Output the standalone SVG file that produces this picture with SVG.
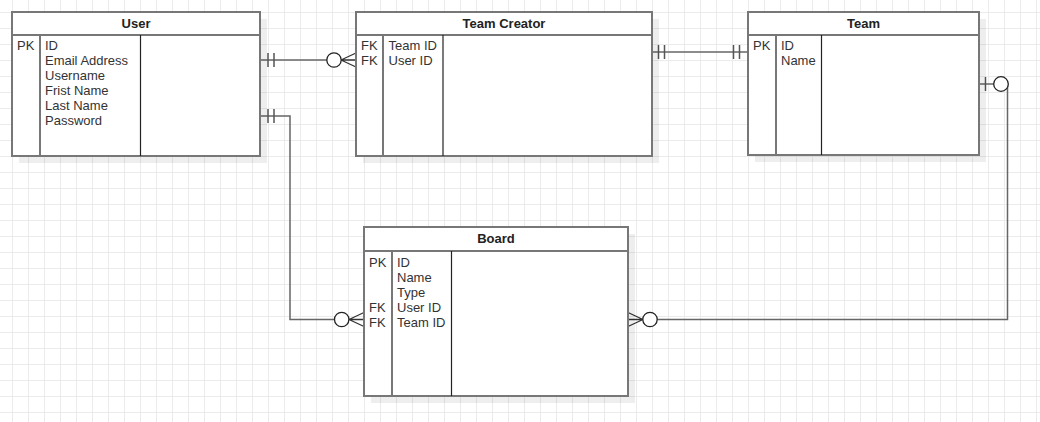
<svg xmlns="http://www.w3.org/2000/svg" width="1040" height="422" viewBox="0 0 1040 422">
<style>
.box{fill:#fff;stroke:#777;stroke-width:2}
.shadow{fill:#000;fill-opacity:0.065}
.sep{stroke:#777;stroke-width:2;fill:none}
.sep2{stroke:#222;stroke-width:1.2;fill:none}
.title{font-family:"Liberation Sans",Arial,Helvetica,sans-serif;font-size:13px;font-weight:bold;fill:#222;text-anchor:middle}
.txt{font-family:"Liberation Sans",Arial,Helvetica,sans-serif;font-size:13px;fill:#333}
.edge{stroke:#666;stroke-width:1.5;fill:none}
.bar{stroke:#555;stroke-width:1.5;fill:none}
.circ{fill:#fff;stroke:#222;stroke-width:1.3}
.crow{stroke:#333;stroke-width:1.3;fill:none}
</style>
<defs>
<pattern id="grid" patternUnits="userSpaceOnUse" x="12" y="12" width="16" height="16">
<path d="M0,0.5 H16 M0.5,0 V16" stroke="#ebebeb" stroke-width="1" fill="none"/>
</pattern>
</defs>
<rect x="0" y="0" width="1040" height="422" fill="#fff"/>
<rect x="0" y="0" width="1040" height="422" fill="url(#grid)"/>

<g id="connectors">
<!-- User - Team Creator -->
<path class="edge" d="M260,60 H327"/>
<path class="bar" d="M268,53 V67 M274,53 V67"/>
<path class="crow" d="M341,60 L356,53 M341,60 L356,67 M341,60 H356"/>
<circle class="circ" cx="334" cy="60" r="7.2"/>
<!-- Team Creator - Team -->
<path class="edge" d="M652,52 H748"/>
<path class="bar" d="M658.5,45 V59 M664.5,45 V59 M733.5,45 V59 M739.5,45 V59"/>
<!-- User - Board -->
<path class="edge" d="M260,116 H290 V319.5 H334.5"/>
<path class="bar" d="M268,109 V123 M274,109 V123"/>
<path class="crow" d="M349,319.5 L364,312.5 M349,319.5 L364,326.5 M349,319.5 H364"/>
<circle class="circ" cx="341.7" cy="319.5" r="7.2"/>
<!-- Team - Board -->
<path class="edge" d="M979,84 H1007.5 V319.5 H657"/>
<path class="bar" d="M985.5,77 V91"/>
<circle class="circ" cx="1001" cy="84" r="7.3"/>
<path class="crow" d="M643,319.5 L628,312.5 M643,319.5 L628,326.5 M643,319.5 H628"/>
<circle class="circ" cx="650" cy="319.5" r="7.2"/>
</g>

<g id="user">
<rect class="shadow" x="19" y="19" width="248" height="144"/>
<rect class="box" x="12" y="12" width="248" height="144"/>
<path class="sep" d="M12,35 H260 M40,35 V156"/>
<path class="sep2" d="M140.5,35 V156"/>
<text class="title" x="136" y="27.5">User</text>
<text class="txt" x="17" y="50">PK</text>
<text class="txt" x="45" y="50">ID</text>
<text class="txt" x="45" y="65">Email Address</text>
<text class="txt" x="45" y="80">Username</text>
<text class="txt" x="45" y="95">Frist Name</text>
<text class="txt" x="45" y="110">Last Name</text>
<text class="txt" x="45" y="125">Password</text>
</g>

<g id="team-creator">
<rect class="shadow" x="363" y="19" width="296" height="144"/>
<rect class="box" x="356" y="12" width="296" height="144"/>
<path class="sep" d="M356,35 H652 M383,35 V156"/>
<path class="sep2" d="M443,35 V156"/>
<text class="title" x="504" y="27.5">Team Creator</text>
<text class="txt" x="361" y="50">FK</text>
<text class="txt" x="361" y="65">FK</text>
<text class="txt" x="388.5" y="50">Team ID</text>
<text class="txt" x="388.5" y="65">User ID</text>
</g>

<g id="team">
<rect class="shadow" x="755" y="19" width="231" height="143"/>
<rect class="box" x="748" y="12" width="231" height="143"/>
<path class="sep" d="M748,35 H979 M776,35 V155"/>
<path class="sep2" d="M821.5,35 V155"/>
<text class="title" x="863.5" y="27.5">Team</text>
<text class="txt" x="753" y="50">PK</text>
<text class="txt" x="781" y="50">ID</text>
<text class="txt" x="781" y="65">Name</text>
</g>

<g id="board">
<rect class="shadow" x="371" y="234" width="264" height="169"/>
<rect class="box" x="364" y="227" width="264" height="169"/>
<path class="sep" d="M364,251 H628 M392,251 V396"/>
<path class="sep2" d="M451.5,251 V396"/>
<text class="title" x="496" y="243">Board</text>
<text class="txt" x="369" y="266.5">PK</text>
<text class="txt" x="369" y="311.5">FK</text>
<text class="txt" x="369" y="326.5">FK</text>
<text class="txt" x="397" y="266.5">ID</text>
<text class="txt" x="397" y="281.5">Name</text>
<text class="txt" x="397" y="296.5">Type</text>
<text class="txt" x="397" y="311.5">User ID</text>
<text class="txt" x="397" y="326.5">Team ID</text>
</g>
</svg>
